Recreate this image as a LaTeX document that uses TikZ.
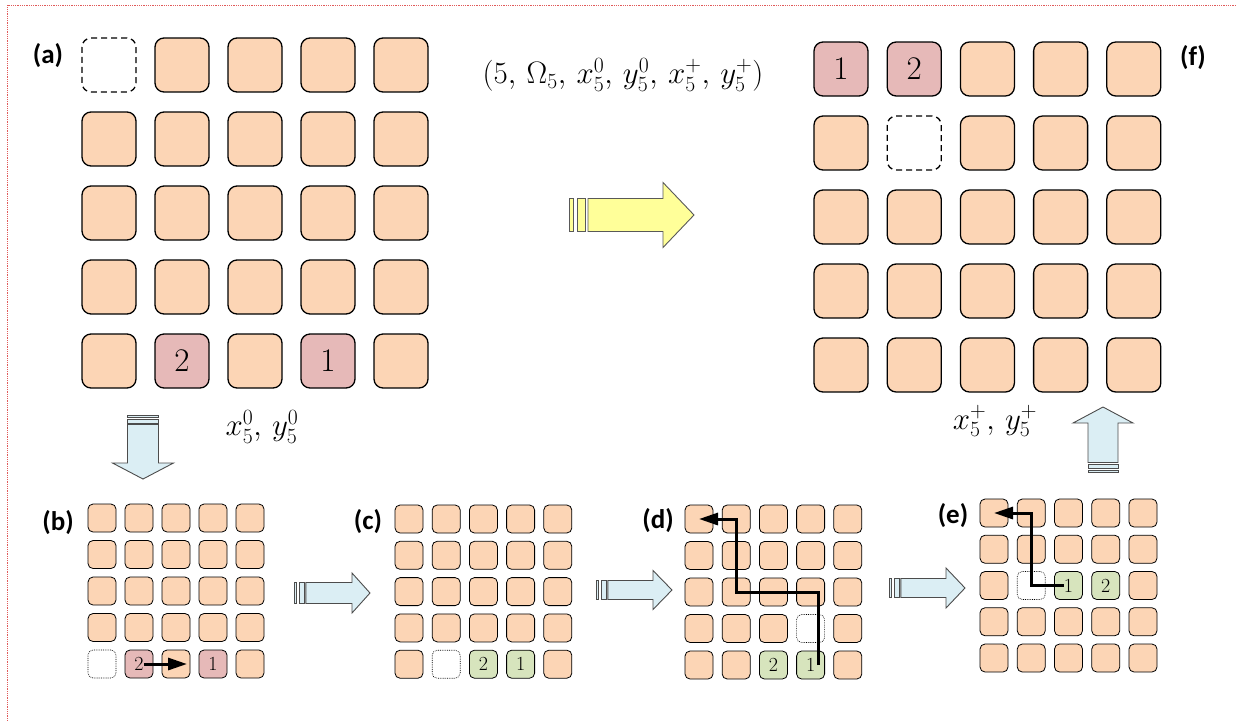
\RequirePackage{fix-cm}
\documentclass[tikz,border=0pt]{standalone}
\usepackage{fontspec}
\usepackage{amsmath}
\usepackage{tikz}
\usetikzlibrary{arrows.meta,positioning,calc}
\newfontfamily\lblfont{Carlito}
\definecolor{tileorange}{HTML}{FCD5B5}
\definecolor{tilepink}{HTML}{E6B9B8}
\definecolor{tilegreen}{HTML}{D7E4BD}
\definecolor{arrowblue}{HTML}{DBEEF4}
\definecolor{arrowyellow}{HTML}{FFFF99}
\definecolor{pageline}{HTML}{E05A5A}

\newcommand{\stripedarrow}[9]{%
  \begin{scope}[shift={(#3,#4)},rotate=#2]
    \filldraw[#1] (0,-#6) rectangle (#9,#6);
    \filldraw[#1] ({2*#9},-#6) rectangle ({4*#9},#6);
    \filldraw[#1] ({4.75*#9},-#6) -- ({#5-#8},-#6) -- ({#5-#8},-#7) -- (#5,0)
      -- ({#5-#8},#7) -- ({#5-#8},#6) -- ({4.75*#9},#6) -- cycle;
  \end{scope}}

\begin{document}
\begin{tikzpicture}[x=1pt, y=-1pt,
  tile/.style={draw, line width=1.3pt, fill=tileorange, rounded corners=9pt, minimum size=54pt, inner sep=0pt},
  stile/.style={draw, line width=0.8pt, fill=tileorange, rounded corners=5pt, minimum size=28pt, inner sep=0pt},
  hole/.style={fill=none, dash pattern=on 6pt off 4pt},
  shole/.style={fill=none, densely dotted, line width=0.6pt},
  pinktile/.style={fill=tilepink},
  greentile/.style={fill=tilegreen},
  num/.style={font=\fontsize{33}{33}\selectfont, inner sep=0pt},
  snum/.style={font=\fontsize{20}{20}\selectfont, inner sep=0pt},
  lbl/.style={font=\lblfont\bfseries\fontsize{27}{27}\selectfont},
  formula/.style={font=\fontsize{31}{31}\selectfont, inner sep=1pt},
  move/.style={line width=3pt, -{Triangle[length=19pt,width=12pt]}},
  blk/.style={fill=arrowblue, draw=black!70, line width=0.9pt},
  ylw/.style={fill=arrowyellow, draw=black!65, line width=0.9pt},
  a-1-1/.style=hole, a-5-2/.style=pinktile, a-5-4/.style=pinktile,
  f-1-1/.style=pinktile, f-1-2/.style=pinktile, f-2-2/.style=hole,
  b-5-1/.style=shole, b-5-2/.style=pinktile, b-5-4/.style=pinktile,
  c-5-2/.style=shole, c-5-3/.style=greentile, c-5-4/.style=greentile,
  d-4-4/.style=shole, d-5-3/.style=greentile, d-5-4/.style=greentile,
  e-3-2/.style=shole, e-3-3/.style=greentile, e-3-4/.style=greentile
]
\useasboundingbox (0,0) rectangle (1236,721);
\draw[pageline, densely dotted, line width=0.8pt] (1236,5) -- (7,5) -- (7,721);

\foreach \p/\xo/\yo/\dx/\dy/\s in {a/109/65/73/74/tile, f/841/69/73.2/74/tile,
  b/102/518/37/36.5/stile, c/409/519/37.2/36.3/stile,
  d/699/519/37.2/36.5/stile, e/994/513/37.25/36.25/stile}
  \foreach \r in {1,...,5}
    \foreach \c in {1,...,5}
      \node[\s, \p-\r-\c/.try] (\p-\r-\c) at ({\xo+(\c-1)*\dx},{\yo+(\r-1)*\dy}) {};

\node[num] (n-a2) at (a-5-2) {2};
\node[num] (n-a1) at (a-5-4) {1};
\node[num] (n-f1) at (f-1-1) {1};
\node[num] (n-f2) at (f-1-2) {2};
\node[snum] (n-b2) at (b-5-2) {2};
\node[snum] (n-b1) at (b-5-4) {1};
\node[snum] (n-c2) at (c-5-3) {2};
\node[snum] (n-c1) at (c-5-4) {1};
\node[snum] (n-d2) at (d-5-3) {2};
\node[snum] (n-d1) at (d-5-4) {1};
\node[snum] (n-e1) at (e-3-3) {1};
\node[snum] (n-e2) at (e-3-4) {2};

\node[lbl] (lbl-a) at (48,56) {(a)};
\node[lbl] (lbl-f) at (1193,58) {(f)};
\node[lbl] (lbl-b) at (58,523) {(b)};
\node[lbl] (lbl-c) at (368,522) {(c)};
\node[lbl] (lbl-d) at (658,521) {(d)};
\node[lbl] (lbl-e) at (953,516) {(e)};

\node[formula] (tuple) at (623,75) {$(5,\,\Omega_5,\,x_5^0,\,y_5^0,\,x_5^+,\,y_5^+)$};
\node[formula] (start) at (262,427) {$x_5^0,\,y_5^0$};
\node[formula] (goal) at (995,421) {$x_5^+,\,y_5^+$};

\draw[move] (n-b2.east) -- ([xshift=11pt]b-5-3.center);
\draw[move] ([xshift=3pt]n-d1.east) |- (d-3-2.center) |- (d-1-1.center);
\draw[move] (n-e1.west) -| (e-1-2.center) -- (e-1-1.center);

\stripedarrow{ylw}{0}{569}{215}{125}{16.5}{32.5}{31}{4}
\stripedarrow{blk}{-90}{143}{415}{64}{15.5}{30.5}{16}{2}
\stripedarrow{blk}{0}{294}{593}{76}{10.5}{20}{18}{2.5}
\stripedarrow{blk}{0}{596}{590}{76}{9.5}{19.5}{19}{2.5}
\stripedarrow{blk}{0}{889}{588}{76}{9.5}{20}{19}{2.5}
\stripedarrow{blk}{90}{1103}{472}{65}{15}{30}{16}{2}
\end{tikzpicture}
\end{document}
